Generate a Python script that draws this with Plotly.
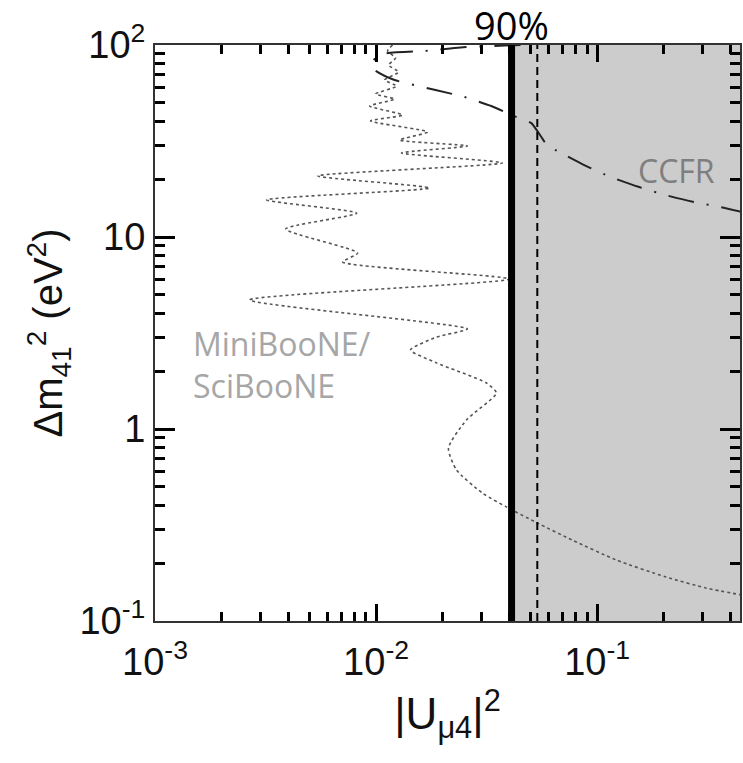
import math
import plotly.graph_objects as go

# ---------------- data ----------------
# MiniBooNE/SciBooNE exclusion contour (|U_mu4|^2, dm^2_41 in eV^2)
mb_u2 = [0.01187, 0.01127, 0.01225, 0.01139, 0.01264, 0.01093, 0.01238, 0.00995,
         0.01212, 0.00935, 0.01317, 0.00944, 0.01708, 0.01277, 0.02588, 0.01303,
         0.03725, 0.00544, 0.01744, 0.00320, 0.00817, 0.00390, 0.00825, 0.00706,
         0.0401, 0.00268, 0.02588, 0.01875, 0.01431, 0.01875, 0.03155, 0.0350,
         0.02562, 0.02125, 0.0231, 0.03026, 0.0388, 0.0536, 0.0771, 0.1219,
         0.2048, 0.3105, 0.4515]
mb_dm2 = [100, 93.1, 85.5, 78.7, 72.3, 65.8, 61.1, 55.6,
          52.3, 48.1, 43.2, 40.2, 35.2, 32.0, 29.8, 27.4,
          24.3, 20.8, 18.0, 15.6, 13.3, 11.0, 8.25, 7.41,
          6.04, 4.70, 3.32, 3.01, 2.58, 2.21, 1.737, 1.54,
          1.114, 0.796, 0.612, 0.464, 0.393, 0.324, 0.264, 0.208,
          0.1695, 0.1485, 0.1366]

# CCFR exclusion contour
ccfr_u2 = [0.045, 0.02563, 0.01656, 0.01069, 0.00955, 0.00984, 0.01212, 0.01857,
           0.0251, 0.0332, 0.0430, 0.0504, 0.0594, 0.0673, 0.0873, 0.1156,
           0.1548, 0.2048, 0.2742, 0.363, 0.451]
ccfr_dm2 = [100, 97.6, 93.1, 89.8, 81.5, 74.1, 65.7, 58.3,
            53.6, 48.1, 42.2, 39.2, 30.1, 27.7, 23.7, 20.5,
            18.2, 16.5, 15.2, 14.3, 13.5]

limit_90 = 0.041        # 90% CL limit (thick line, shaded region to the right)
limit_dashed = 0.0536   # dashed limit line

# label anchor points (data units)
ccfr_label_pos = (0.2274, 22.3)
mb_label_pos = (0.00146, 2.17)

x_range_log = [-3, -0.354]
y_range_log = [-1, 2]

x_tickvals = [0.001, 0.01, 0.1]
x_ticktext = ["10<sup>-3</sup>", "10<sup>-2</sup>", "10<sup>-1</sup>"]
y_tickvals = [0.1, 1, 10, 100]
y_ticktext = ["10<sup>-1</sup>", "1", "10", "10<sup>2</sup>"]

x_minor = [m * 10 ** e for e in (-3, -2, -1) for m in range(2, 10)]
y_minor = [m * 10 ** e for e in (-1, 0, 1) for m in range(2, 10)]

label_font = "Open Sans"
axis_font = "Liberation Sans, Arial"
axis_color = "black"

# ---------------- figure ----------------
fig = go.Figure()

fig.add_trace(go.Scatter(
    x=mb_u2, y=mb_dm2, mode="lines",
    line=dict(color="#555555", width=1.6, dash="dot", shape="spline", smoothing=0.6),
    hoverinfo="skip"))

# CCFR drawn on the overlay axes (same ranges) that carry the minor ticks
fig.add_trace(go.Scatter(
    x=ccfr_u2, y=ccfr_dm2, mode="lines", xaxis="x2", yaxis="y2",
    line=dict(color="#222222", width=2, dash="26px,13px,2px,13px", shape="spline", smoothing=0.5),
    hoverinfo="skip"))

x_max = 10 ** x_range_log[1]
fig.add_shape(type="rect", xref="x", yref="paper", x0=limit_90, x1=x_max, y0=0, y1=1,
              fillcolor="#cccccc", line=dict(width=0), layer="below")
fig.add_shape(type="line", xref="x", yref="paper", x0=limit_dashed, x1=limit_dashed, y0=0, y1=1,
              line=dict(color="black", width=2, dash="8px,5px"), layer="above")
fig.add_shape(type="line", xref="x", yref="paper", x0=limit_90, x1=limit_90, y0=0, y1=1,
              line=dict(color="black", width=7), layer="above")

# annotations on log axes take log10 positions
fig.add_annotation(text="90%", x=math.log10(limit_90), xref="x", y=1, yref="paper",
                   yanchor="middle", xanchor="center", showarrow=False, yshift=20,
                   borderpad=0, font=dict(family=label_font, size=38, color="black"))
fig.add_annotation(text="CCFR", x=math.log10(ccfr_label_pos[0]), y=math.log10(ccfr_label_pos[1]),
                   xref="x", yref="y", showarrow=False, xanchor="center", yanchor="middle",
                   font=dict(family=label_font, size=32, color="#7f7f7f"))
fig.add_annotation(text="MiniBooNE/<br>SciBooNE", x=math.log10(mb_label_pos[0]),
                   y=math.log10(mb_label_pos[1]), xref="x", yref="y",
                   showarrow=False, xanchor="left", yanchor="middle", align="left",
                   font=dict(family=label_font, size=32, color="#a6a6a6"))

axis_common = dict(
    type="log", showgrid=False, zeroline=False,
    showline=True, linewidth=2, linecolor="#333333", mirror="ticks",
    ticks="inside", tickwidth=2.5, tickcolor=axis_color,
)

fig.update_layout(
    xaxis=dict(
        range=x_range_log, tickmode="array", tickvals=x_tickvals, ticktext=x_ticktext,
        ticklen=17, ticklabelstandoff=6,
        tickfont=dict(family=axis_font, size=38, color="#111111"),
        title=dict(text="|U<sub>μ4</sub>|<sup>2</sup>",
                   font=dict(family=axis_font, size=44, color="#111111"), standoff=16),
        **axis_common),
    yaxis=dict(
        range=y_range_log, tickmode="array", tickvals=y_tickvals, ticktext=y_ticktext,
        ticklen=20,
        tickfont=dict(family=axis_font, size=38, color="#111111"),
        title=dict(text="Δm<sub>41</sub><sup>2</sup> (eV<sup>2</sup>)",
                   font=dict(family=axis_font, size=40, color="#111111"), standoff=4),
        **axis_common),
    xaxis2=dict(
        range=x_range_log, overlaying="x", anchor="y2", side="bottom",
        tickmode="array", tickvals=x_minor, ticklen=9, showticklabels=False,
        **axis_common),
    yaxis2=dict(
        range=y_range_log, overlaying="y", anchor="x2", side="left",
        tickmode="array", tickvals=y_minor, ticklen=10, showticklabels=False,
        **axis_common),
    width=743, height=763,
    margin=dict(l=155, r=1, t=45, b=142),
    plot_bgcolor="white", paper_bgcolor="white",
    showlegend=False,
)

fig.write_html("out.html")
